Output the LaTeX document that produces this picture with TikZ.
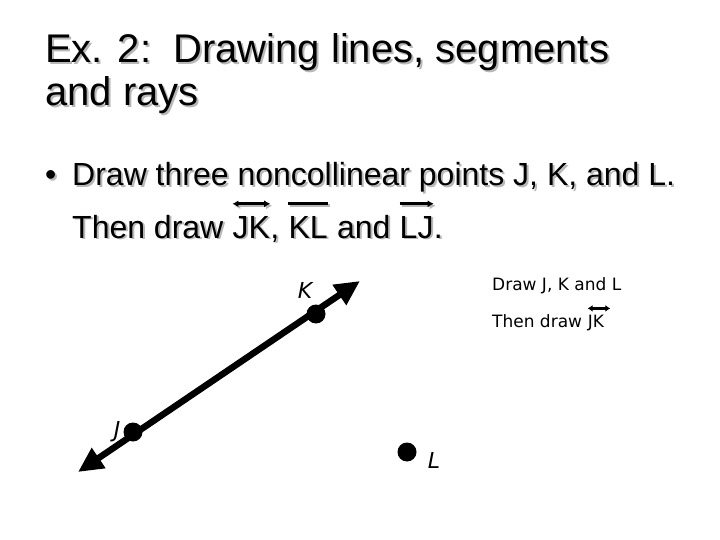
\documentclass[tikz,border=0pt]{standalone}
\usepackage{fontspec}
\setmainfont{Liberation Sans}
\newfontfamily\smallfont{DejaVu Sans}
\usetikzlibrary{arrows.meta}
\tikzset{
  txt/.style={inner sep=0pt, anchor=base west},
  over/.style={line width=2.6pt},
  ray/.style={line width=6.5pt, {Triangle[length=25pt,width=23pt]}-{Triangle[length=25pt,width=23pt]}},
  dot/.style={circle, fill=black, inner sep=0pt, minimum size=19pt},
  lab/.style={inner sep=0pt, font=\smallfont\itshape\fontsize{22}{24}\selectfont},
}
\newcommand\slidetext[1]{%
  \node[txt,text=#1,font=\fontsize{40}{44}\selectfont] (title1) at (45,63) {Ex. 2:\ \ Drawing lines, segments};
  \node[txt,text=#1,font=\fontsize{40}{44}\selectfont] (title2) at (45,106) {and rays};
  \node[txt,text=#1,font=\fontsize{32}{36}\selectfont] (bul) at (45,186) {\textbullet};
  \node[txt,text=#1,font=\fontsize{32}{36}\selectfont] (line1) at (72,186) {Draw three noncollinear points J, K, and L.};
  \node[txt,text=#1,font=\fontsize{32}{36}\selectfont] (t1) at (72,238) {Then draw\ \null};
  \node[txt,text=#1,font=\fontsize{32}{36}\selectfont] (jk) at (t1.base east) {JK};
  \node[txt,text=#1,font=\fontsize{32}{36}\selectfont] (c1) at (jk.base east) {,\ \null};
  \node[txt,text=#1,font=\fontsize{32}{36}\selectfont] (kl) at (c1.base east) {KL};
  \node[txt,text=#1,font=\fontsize{32}{36}\selectfont] (a1) at (kl.base east) {\null\ and\ \null};
  \node[txt,text=#1,font=\fontsize{32}{36}\selectfont] (lj) at (a1.base east) {LJ};
  \node[txt,text=#1,font=\fontsize{32}{36}\selectfont] (pt) at (lj.base east) {.};
  \draw[over,draw=#1,{Latex[length=6pt,width=7pt]}-{Latex[length=6pt,width=7pt]}] ([yshift=12pt]jk.north west) -- ([yshift=12pt]jk.north east);
  \draw[over,draw=#1] ([yshift=12pt]kl.north west) -- ([yshift=12pt]kl.north east);
  \draw[over,draw=#1,-{Latex[length=6pt,width=7pt]}] ([yshift=12pt]lj.north west) -- ([yshift=12pt]lj.north east);
}
\begin{document}
\begin{tikzpicture}[x=1pt,y=-1pt]
\useasboundingbox[fill=white] (0,0) rectangle (720,540);
\begin{scope}[shift={(2,2)}]
  \slidetext{black!28}
\end{scope}
\slidetext{black}

% small instructions
\node[txt,font=\smallfont\fontsize{17}{20}\selectfont] (s1) at (492,290) {Draw J, K and L};
\node[txt,font=\smallfont\fontsize{17}{20}\selectfont] (s2a) at (492,327) {Then draw\ \null};
\node[txt,font=\smallfont\fontsize{17}{20}\selectfont] (s2b) at (s2a.base east) {JK};
\draw[line width=2.4pt,{Latex[length=5pt,width=7pt]}-{Latex[length=5pt,width=7pt]}] ([yshift=6pt]s2b.north west) -- ([yshift=6pt,xshift=6pt]s2b.north east);

% the figure
\coordinate (endJ) at (78,472);
\coordinate (endK) at (360,281);
\draw[ray] (endJ) -- (endK);
\node[dot] (K) at (316,314) {};
\node[dot] (J) at (133,432) {};
\node[dot] (L) at (407,452) {};
\node[lab] (Klab) at (305,290) {K};
\node[lab] (Jlab) at (117,432) {J};
\node[lab] (Llab) at (434,460) {L};
\end{tikzpicture}
\end{document}
